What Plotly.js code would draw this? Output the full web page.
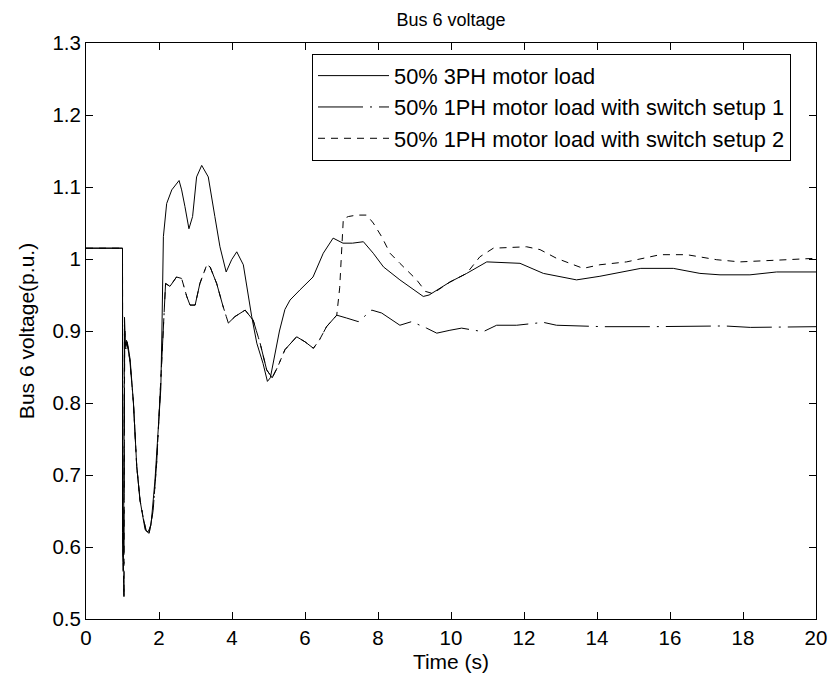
<!DOCTYPE html>
<html>
<head>
<meta charset="utf-8">
<script src="https://cdn.plot.ly/plotly-3.0.1.min.js"></script>
<style>html,body{margin:0;padding:0;background:#fff;}#chart{width:830px;height:679px;}</style>
</head>
<body>
<div id="chart"></div>
<script>
// Series names
const seriesNames = [
  "50% 3PH motor load",
  "50% 1PH motor load with switch setup 1",
  "50% 1PH motor load with switch setup 2"
];

// Series 1: 50% 3PH motor load
const time1 = [0,1.0,1.0,1.02,1.04,1.055,1.08,1.11,1.15,1.21,
  1.30,1.39,1.48,1.57,1.62,1.70,1.78,1.89,1.98,2.05,
  2.08,2.12,2.21,2.35,2.55,2.62,2.71,2.82,2.92,3.03,
  3.17,3.35,3.53,3.67,3.84,3.99,4.13,4.31,4.54,4.68,
  4.85,4.97,5.05,5.15,5.30,5.45,5.59,5.86,6.22,6.50,
  6.77,7.04,7.30,7.60,7.87,8.15,8.60,9.24,9.40,9.97,
  10.43,10.98,11.89,12.53,13.44,14.08,15.20,16.09,16.82,17.37,
  18.19,18.92,20];
const volt1 = [1.015,1.015,0.62,0.566,0.70,0.919,0.88,0.887,0.88,0.86,
  0.80,0.712,0.665,0.640,0.624,0.621,0.63,0.693,0.758,0.82,
  0.90,1.031,1.077,1.096,1.109,1.096,1.073,1.042,1.059,1.114,
  1.130,1.114,1.059,1.017,0.982,0.999,1.010,0.992,0.920,0.883,
  0.855,0.830,0.835,0.86,0.90,0.93,0.943,0.957,0.975,1.008,
  1.029,1.022,1.022,1.024,1.008,0.989,0.971,0.948,0.950,0.968,
  0.980,0.996,0.994,0.980,0.971,0.976,0.987,0.987,0.980,0.978,
  0.978,0.982,0.982];

// Series 2: 50% 1PH motor load with switch setup 1
const time2 = [0,1.0,1.01,1.04,1.05,1.06,1.09,1.12,1.20,1.30,
  1.39,1.48,1.57,1.65,1.73,1.84,1.94,2.00,2.07,2.12,
  2.18,2.30,2.48,2.62,2.76,2.85,2.99,3.12,3.31,3.40,
  3.58,3.75,3.90,4.08,4.36,4.58,4.77,4.95,5.10,5.25,
  5.45,5.77,6.00,6.23,6.40,6.59,6.87,7.14,7.46,7.83,
  8.10,8.60,8.92,9.33,9.61,9.97,10.29,10.88,11.25,11.80,
  12.53,12.89,14.17,15.45,17.50,18.20,20];
const volt2 = [1.015,1.015,0.60,0.531,0.75,0.90,0.875,0.885,0.86,0.80,
  0.712,0.665,0.640,0.622,0.619,0.651,0.72,0.78,0.85,0.92,
  0.966,0.962,0.975,0.973,0.948,0.936,0.936,0.966,0.992,0.989,
  0.966,0.935,0.911,0.920,0.929,0.915,0.883,0.846,0.835,0.850,
  0.874,0.892,0.885,0.876,0.888,0.906,0.922,0.918,0.913,0.929,
  0.925,0.908,0.913,0.904,0.897,0.901,0.904,0.899,0.908,0.908,
  0.912,0.908,0.906,0.906,0.907,0.905,0.906];

// Series 3: 50% 1PH motor load with switch setup 2
const time3 = [0,1.0,1.01,1.04,1.05,1.06,1.09,1.12,1.20,1.30,
  1.39,1.48,1.57,1.65,1.73,1.84,1.94,2.00,2.07,2.12,
  2.18,2.30,2.48,2.62,2.76,2.85,2.99,3.12,3.31,3.40,
  3.58,3.75,3.90,4.08,4.36,4.58,4.77,4.95,5.10,5.25,
  5.45,5.77,6.00,6.23,6.40,6.59,6.87,
  6.95,7.05,7.19,7.42,7.69,7.87,8.10,8.33,8.60,8.79,
  9.06,9.30,9.50,9.97,10.43,10.79,11.16,12.07,12.44,12.89,
  13.62,14.08,14.81,15.73,16.46,17.28,17.92,19.19,20];
const volt3 = [1.015,1.015,0.60,0.531,0.75,0.90,0.875,0.885,0.86,0.80,
  0.712,0.665,0.640,0.622,0.619,0.651,0.72,0.78,0.85,0.92,
  0.966,0.962,0.975,0.973,0.948,0.936,0.936,0.966,0.992,0.989,
  0.966,0.935,0.911,0.920,0.929,0.915,0.883,0.846,0.835,0.850,
  0.874,0.892,0.885,0.876,0.888,0.906,0.922,
  0.96,1.056,1.059,1.061,1.061,1.050,1.031,1.008,0.994,0.985,
  0.971,0.955,0.952,0.968,0.980,1.003,1.015,1.017,1.013,1.001,
  0.987,0.992,0.996,1.006,1.006,0.999,0.996,0.999,1.001];

const xTicks = [0,2,4,6,8,10,12,14,16,18,20];
const yTicks = [0.5,0.6,0.7,0.8,0.9,1,1.1,1.2,1.3];

const FONT = "Liberation Sans, Arial, Helvetica, sans-serif";

const traces = [
  {x: time1, y: volt1, name: seriesNames[0], type: "scatter", mode: "lines",
   line: {color: "#000", width: 1, dash: "solid"}},
  {x: time2, y: volt2, name: seriesNames[1], type: "scatter", mode: "lines",
   line: {color: "#000", width: 1, dash: "45px,7px,2px,7px"}},
  {x: time3, y: volt3, name: seriesNames[2], type: "scatter", mode: "lines",
   line: {color: "#000", width: 1, dash: "7px,6px"}}
];

const axisCommon = {
  showline: true, linecolor: "#000", linewidth: 1, mirror: "ticks",
  ticks: "inside", ticklen: 7, tickwidth: 1, tickcolor: "#000",
  showgrid: false, zeroline: false,
  tickfont: {family: FONT, size: 20.5, color: "#000"}
};

const layout = {
  width: 830, height: 679,
  margin: {l: 86, r: 14, t: 43, b: 60, pad: 0},
  paper_bgcolor: "#fff", plot_bgcolor: "#fff",
  font: {family: FONT, color: "#000"},
  title: {text: "Bus 6 voltage", font: {family: FONT, size: 18, color: "#000"},
          x: 0.5, xref: "paper", y: 0.971, yref: "container", yanchor: "middle"},
  xaxis: Object.assign({}, axisCommon, {
    range: [0, 20], tickvals: xTicks, ticktext: xTicks.map(String),
    title: {text: "Time (s)", font: {family: FONT, size: 21, color: "#000"}, standoff: 6}
  }),
  yaxis: Object.assign({}, axisCommon, {
    range: [0.5, 1.3], tickvals: yTicks, ticktext: yTicks.map(String),
    title: {text: "Bus 6 voltage(p.u.)", font: {family: FONT, size: 21, color: "#000"}, standoff: 12}
  }),
  showlegend: true,
  legend: {x: 0.3096, y: 0.981, xanchor: "left", yanchor: "top",
           bgcolor: "#fff", bordercolor: "#000", borderwidth: 1,
           font: {family: FONT, size: 21.8, color: "#000"}, itemwidth: 71}
};

Plotly.newPlot("chart", traces, layout, {displayModeBar: false, staticPlot: true});
</script>
</body>
</html>
